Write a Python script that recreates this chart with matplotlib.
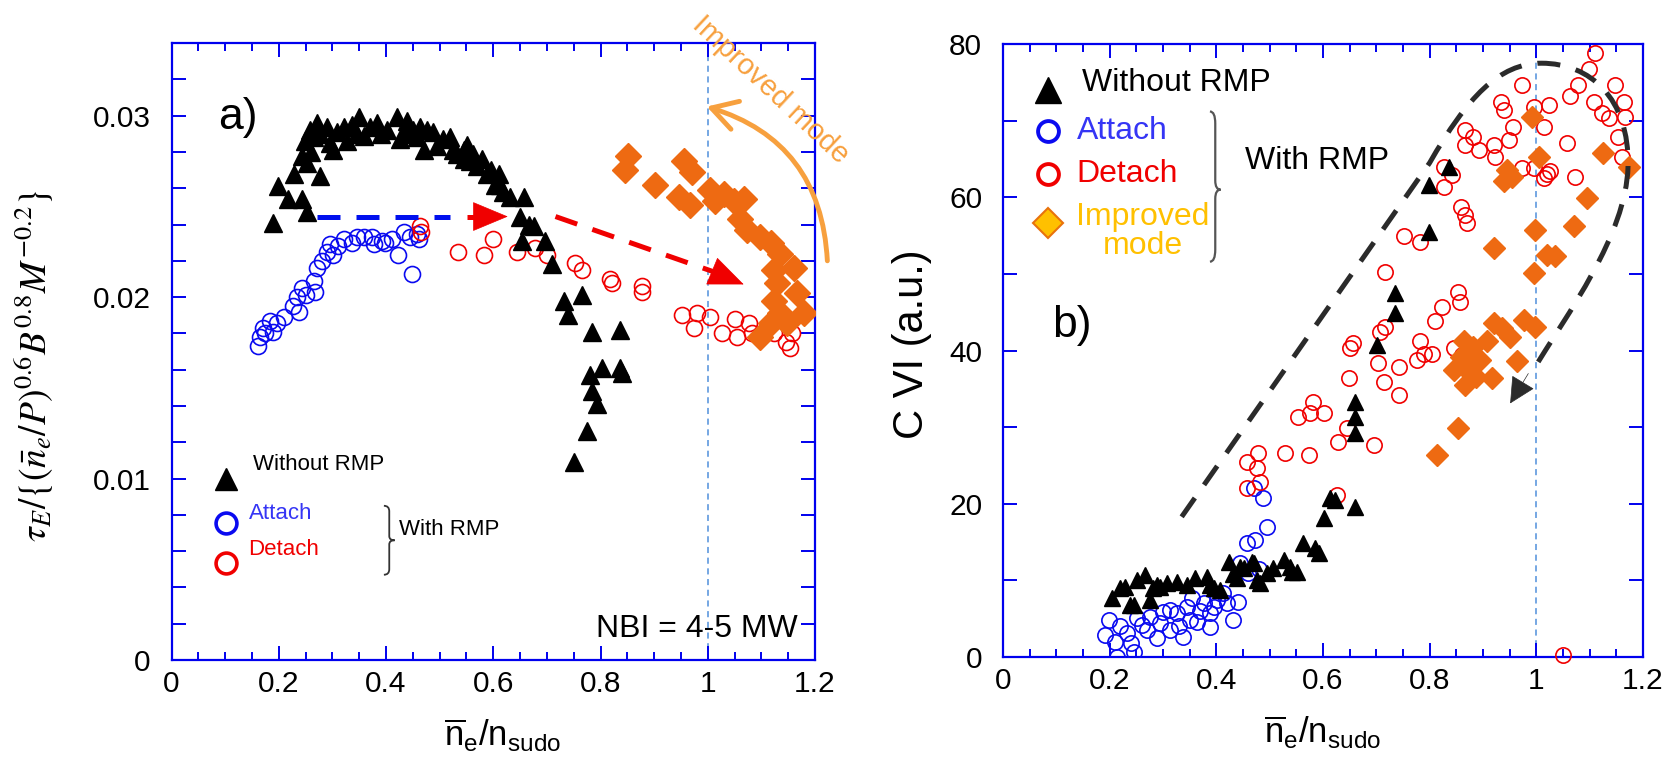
import matplotlib
matplotlib.use("Agg")
import matplotlib.pyplot as plt
from matplotlib.path import Path
from matplotlib.patches import PathPatch
from matplotlib.ticker import MultipleLocator, FixedLocator, FixedFormatter

plt.rcParams['font.family'] = ['Liberation Sans', 'DejaVu Sans']
plt.rcParams['mathtext.fontset'] = 'custom'
plt.rcParams['mathtext.rm'] = 'Liberation Sans'
plt.rcParams['mathtext.it'] = 'Liberation Sans:italic'

# ---------------- panel a) data ----------------
a_wo_x = [0.190, 0.199, 0.218, 0.229, 0.243, 0.253, 0.243, 0.252, 0.277, 0.249, 0.258, 0.271,
          0.290, 0.302, 0.308, 0.321, 0.336, 0.349, 0.327, 0.358, 0.370, 0.383, 0.402, 0.420,
          0.426, 0.439, 0.451, 0.464, 0.470, 0.476, 0.488, 0.495, 0.507, 0.520, 0.532, 0.545,
          0.551, 0.563, 0.570, 0.579, 0.588, 0.604, 0.610, 0.619, 0.632, 0.657, 0.650, 0.666,
          0.675, 0.653, 0.697, 0.709, 0.731, 0.765, 0.740, 0.784, 0.837, 0.781, 0.803, 0.837,
          0.840, 0.784, 0.793, 0.775, 0.750, 0.277, 0.296, 0.345, 0.390, 0.433, 0.458, 0.525,
          0.545, 0.557, 0.595, 0.612, 0.260, 0.265]
a_wo_y = [0.0241, 0.0261, 0.0254, 0.0268, 0.0254, 0.0247, 0.0278, 0.0274, 0.0267, 0.0286, 0.0292, 0.0296,
          0.0294, 0.0281, 0.0291, 0.0294, 0.0295, 0.0299, 0.0286, 0.0289, 0.0294, 0.0296, 0.0292, 0.0299,
          0.0287, 0.0297, 0.0292, 0.0294, 0.0281, 0.0292, 0.0291, 0.0283, 0.0287, 0.0288, 0.0279, 0.0276,
          0.0284, 0.0279, 0.0272, 0.0276, 0.0268, 0.0262, 0.0268, 0.0258, 0.0255, 0.0255, 0.0244, 0.0240,
          0.0239, 0.0231, 0.0231, 0.0218, 0.0198, 0.0201, 0.0190, 0.0181, 0.0182, 0.0157, 0.0161, 0.0161,
          0.0158, 0.0148, 0.0141, 0.0126, 0.0109, 0.0290, 0.0285, 0.0290, 0.0290, 0.0290, 0.0288, 0.0281,
          0.0281, 0.0275, 0.0270, 0.0262, 0.0280, 0.0288]

a_att_x = [0.162, 0.165, 0.171, 0.184, 0.190, 0.209, 0.227, 0.237, 0.234, 0.243, 0.265, 0.268,
           0.271, 0.280, 0.302, 0.296, 0.321, 0.336, 0.346, 0.358, 0.373, 0.377, 0.392, 0.411,
           0.423, 0.433, 0.458, 0.461, 0.448, 0.175, 0.196, 0.250, 0.290, 0.310, 0.398, 0.445]
a_att_y = [0.0173, 0.0178, 0.0183, 0.0187, 0.0181, 0.0189, 0.0195, 0.0192, 0.0200, 0.0205, 0.0209, 0.0203,
           0.0216, 0.0220, 0.0223, 0.0229, 0.0232, 0.0230, 0.0233, 0.0233, 0.0233, 0.0229, 0.0231, 0.0232,
           0.0223, 0.0236, 0.0235, 0.0232, 0.0213, 0.0180, 0.0186, 0.0201, 0.0225, 0.0228, 0.0230, 0.0233]

a_det_x = [0.464, 0.466, 0.535, 0.582, 0.600, 0.644, 0.678, 0.700, 0.753, 0.765, 0.818, 0.821,
           0.877, 0.877, 0.952, 0.974, 0.980, 1.005, 1.026, 1.051, 1.054, 1.076, 1.082, 1.123,
           1.145, 1.154, 1.157]
a_det_y = [0.0239, 0.0236, 0.0225, 0.0223, 0.0232, 0.0225, 0.0227, 0.0223, 0.0219, 0.0215, 0.0210, 0.0208,
           0.0206, 0.0203, 0.0190, 0.0183, 0.0191, 0.0189, 0.0180, 0.0188, 0.0178, 0.0186, 0.0180, 0.0180,
           0.0175, 0.0172, 0.0180]

a_imp_x = [0.852, 0.846, 0.902, 0.955, 0.970, 0.946, 0.967, 1.005, 1.014, 1.030, 1.048, 1.067,
           1.061, 1.073, 1.098, 1.117, 1.135, 1.123, 1.160, 1.129, 1.123, 1.166, 1.179, 1.135,
           1.148, 1.117, 1.098]
a_imp_y = [0.0278, 0.0270, 0.0262, 0.0275, 0.0269, 0.0255, 0.0251, 0.0259, 0.0253, 0.0257, 0.0253, 0.0254,
           0.0243, 0.0237, 0.0233, 0.0230, 0.0224, 0.0215, 0.0216, 0.0208, 0.0198, 0.0202, 0.0191, 0.0191,
           0.0186, 0.0186, 0.0178]

# ---------------- panel b) data ----------------
b_wo_x = [0.204, 0.229, 0.245, 0.251, 0.266, 0.276, 0.288, 0.307, 0.326, 0.345, 0.360, 0.382,
          0.388, 0.407, 0.423, 0.438, 0.451, 0.470, 0.476, 0.495, 0.507, 0.526, 0.538, 0.551,
          0.563, 0.585, 0.592, 0.601, 0.614, 0.623, 0.660, 0.660, 0.660, 0.660, 0.701, 0.735,
          0.735, 0.798, 0.836, 0.798, 0.220, 0.238, 0.282, 0.295, 0.395, 0.432, 0.445, 0.467,
          0.482, 0.542]
b_wo_y = [7.66, 9.18, 6.79, 10.05, 10.70, 7.44, 9.40, 9.62, 9.83, 9.40, 10.27, 10.49,
          9.40, 8.75, 12.45, 10.27, 11.58, 12.23, 10.05, 10.92, 11.58, 12.66, 11.79, 11.14,
          14.84, 14.19, 13.53, 18.10, 20.71, 20.50, 19.63, 29.20, 31.37, 33.33, 40.73, 44.87,
          47.48, 61.6, 64.0, 55.5, 8.96, 6.8, 8.96, 9.18, 8.96, 10.9, 11.8, 12.45,
          9.62, 11.14]

b_att_x = [0.198, 0.191, 0.213, 0.245, 0.232, 0.251, 0.270, 0.276, 0.288, 0.295, 0.313, 0.326,
           0.338, 0.345, 0.351, 0.363, 0.376, 0.388, 0.388, 0.401, 0.413, 0.432, 0.441, 0.445,
           0.460, 0.457, 0.473, 0.495, 0.470, 0.488, 0.313, 0.354, 0.300, 0.260, 0.220, 0.210,
           0.240, 0.330, 0.370, 0.395, 0.420, 0.480]
b_att_y = [4.83, 2.87, 0.04, 0.70, 3.09, 5.05, 3.52, 5.27, 2.44, 4.40, 3.52, 5.70,
           2.65, 6.57, 4.83, 4.61, 7.01, 5.70, 3.96, 7.44, 8.31, 4.83, 7.22, 12.23,
           10.92, 14.84, 15.27, 17.01, 22.02, 20.71, 6.14, 7.66, 5.9, 4.2, 4.0, 2.0,
           1.8, 4.0, 6.0, 6.5, 7.0, 11.5]

b_det_x = [0.457, 0.482, 0.457, 0.476, 0.479, 0.529, 0.573, 0.554, 0.576, 0.582, 0.601, 0.629,
           0.645, 0.626, 0.695, 0.648, 0.651, 0.657, 0.704, 0.714, 0.742, 0.742, 0.707, 0.717,
           0.717, 1.111, 1.098, 1.079, 1.064, 1.148, 1.164, 1.108, 1.123, 1.136, 1.167, 1.154,
           1.161, 1.058, 1.073, 0.973, 0.995, 1.023, 1.014, 0.933, 0.939, 0.957, 0.948, 0.920,
           0.867, 0.882, 0.867, 0.892, 0.923, 0.973, 0.995, 1.020, 1.014, 1.026, 0.826, 0.842,
           0.826, 0.858, 0.870, 0.867, 0.751, 0.782, 0.854, 0.857, 0.823, 0.810, 0.782, 0.789,
           0.804, 0.776, 0.845, 0.861, 0.864, 1.050]
b_det_y = [22.02, 22.89, 25.50, 24.63, 26.59, 26.59, 26.37, 31.37, 31.81, 33.33, 31.81, 28.11,
           29.85, 21.15, 27.68, 36.38, 40.30, 40.95, 38.34, 35.94, 37.90, 34.20, 42.47, 43.12,
           50.30, 78.8, 76.8, 74.7, 73.2, 74.7, 72.5, 72.5, 71.0, 70.3, 70.5, 67.9,
           65.3, 67.1, 62.7, 74.7, 71.8, 72.1, 69.2, 72.5, 71.4, 69.2, 67.5, 66.8,
           68.8, 67.9, 66.8, 66.2, 65.3, 63.8, 63.8, 63.1, 62.5, 63.4, 64.0, 62.9,
           61.4, 58.8, 56.6, 57.7, 54.9, 54.2, 47.7, 46.4, 45.7, 43.8, 41.2, 39.6,
           39.6, 38.8, 40.3, 39.4, 38.8, 0.3]

b_imp_x = [0.992, 1.005, 0.945, 0.939, 0.954, 1.126, 1.173, 1.095, 0.998, 1.070, 0.920, 1.020,
           1.036, 0.995, 0.920, 0.936, 0.976, 0.997, 0.951, 0.864, 0.882, 0.907, 0.858, 0.895,
           0.845, 0.870, 0.886, 0.917, 0.964, 0.867, 0.854, 0.814]
b_imp_y = [70.5, 65.3, 63.6, 62.1, 62.7, 65.8, 64.0, 59.9, 55.7, 56.2, 53.4, 52.5,
           52.3, 50.1, 43.6, 42.9, 44.0, 43.1, 41.8, 41.2, 40.5, 41.2, 39.2, 38.8,
           37.5, 37.5, 36.6, 36.4, 38.6, 35.5, 29.9, 26.4]

# guide curve of panel b) (annotation, not data)
b_loop = [(0.335, 18.3), (0.80, 64.5), (0.87, 73.0), (0.93, 77.5), (1.01, 77.5),
          (1.10, 77.5), (1.175, 73.0), (1.172, 64.0), (1.168, 55.0), (1.06, 45.0), (0.99, 37.0)]

x_ticks = [0, 0.2, 0.4, 0.6, 0.8, 1, 1.2]
x_tick_labels = ['0', '0.2', '0.4', '0.6', '0.8', '1', '1.2']
a_y_ticks = [0, 0.01, 0.02, 0.03]
a_y_tick_labels = ['0', '0.01', '0.02', '0.03']
b_y_ticks = [0, 20, 40, 60, 80]
b_y_tick_labels = ['0', '20', '40', '60', '80']

SPINE = '#0000EE'
BLUE = '#0A0AF0'
RED = '#F00000'
ORANGE = '#EE6A12'
LIGHT_ORANGE = '#F7A03E'
GOLD = '#FFC000'
XLABEL = r'$\overline{\mathrm{n}}_{\mathrm{e}}/\mathrm{n}_{\mathrm{sudo}}$'


def style_axes(ax, yticks, ylabels, yminor, xlab_x):
    for s in ax.spines.values():
        s.set_color(SPINE)
        s.set_linewidth(1.6)
    ax.set_xlim(0, 1.2)
    ax.xaxis.set_major_locator(FixedLocator(x_ticks))
    ax.xaxis.set_major_formatter(FixedFormatter(x_tick_labels))
    ax.xaxis.set_minor_locator(MultipleLocator(0.05))
    ax.yaxis.set_major_locator(FixedLocator(yticks))
    ax.yaxis.set_major_formatter(FixedFormatter(ylabels))
    ax.yaxis.set_minor_locator(MultipleLocator(yminor))
    ax.tick_params(which='both', direction='in', top=True, right=True,
                   color=SPINE, width=1.4, labelsize=21.5, labelcolor='black')
    ax.tick_params(axis='x', which='major', length=10, pad=7)
    ax.tick_params(axis='x', which='minor', length=6)
    ax.tick_params(axis='y', which='both', length=10, pad=15)
    ax.set_xlabel(XLABEL, fontsize=25)
    ax.xaxis.set_label_coords(xlab_x, -0.092)
    ax.axvline(1.0, color='#4F8FDB', lw=1.1, dashes=(4, 3), zorder=1.5)


def brace(ax, x0, x1, y0, y1, ym, **kw):
    xm = (x0 + x1) / 2
    h = y1 - y0
    verts = [(x0, y1), (xm, y1), (xm, y1 - 0.08 * h), (xm, ym + 0.06 * h),
             (xm, ym), (x1, ym), (xm, ym), (xm, ym - 0.06 * h),
             (xm, y0 + 0.08 * h), (xm, y0), (x0, y0)]
    codes = [Path.MOVETO, Path.CURVE3, Path.CURVE3, Path.LINETO, Path.CURVE3, Path.CURVE3,
             Path.CURVE3, Path.CURVE3, Path.LINETO, Path.CURVE3, Path.CURVE3]
    ax.add_patch(PathPatch(Path(verts, codes), fill=False, **kw))


def head(ax, tip, base, color, scale=20):
    ax.annotate('', xy=tip, xytext=base,
                arrowprops=dict(arrowstyle='-|>,head_length=1.2,head_width=0.5', color=color,
                                lw=0.5, mutation_scale=scale, shrinkA=0, shrinkB=0), zorder=6)


fig = plt.figure(figsize=(16.77, 7.69), dpi=100)
ax1 = fig.add_axes([0.1023, 0.1417, 0.3837, 0.8023])
ax2 = fig.add_axes([0.5981, 0.1456, 0.3816, 0.7971])

# ---------------- panel a) ----------------
ax1.set_ylim(0, 0.034)
style_axes(ax1, a_y_ticks, a_y_tick_labels, 0.002, 0.515)
ax1.plot(a_att_x, a_att_y, 'o', ms=11.5, mfc='none', mec=BLUE, mew=1.2, zorder=3)
ax1.plot(a_det_x, a_det_y, 'o', ms=11.5, mfc='none', mec=RED, mew=1.2, zorder=3)
ax1.plot(a_wo_x, a_wo_y, '^', ms=13, color='black', mec='black', zorder=4)
ax1.plot(a_imp_x, a_imp_y, 'D', ms=13, color=ORANGE, mec=ORANGE, zorder=5)

# horizontal and sloped arrows
ax1.plot([0.271, 0.520], [0.02444, 0.02444], color='#0010EE', lw=3.6, dashes=(4.6, 3.2), zorder=4)
ax1.plot([0.551, 0.590], [0.02444, 0.02444], color=RED, lw=3.6, dashes=(4.6, 3.2), zorder=4)
head(ax1, (0.627, 0.02444), (0.585, 0.02444), RED)
ax1.plot([0.716, 1.025], [0.02444, 0.02125], color=RED, lw=3.6, dashes=(4.6, 3.2), zorder=4)
head(ax1, (1.067, 0.0207), (1.020, 0.02128), RED)

# improved mode curved arrow
ax1.annotate('', xy=(0.998, 0.0305), xytext=(1.223, 0.0220), annotation_clip=False,
             arrowprops=dict(arrowstyle='->,head_length=0.6,head_width=0.35', color=LIGHT_ORANGE,
                             lw=3.5, mutation_scale=30, connectionstyle='arc3,rad=0.35',
                             clip_on=False, shrinkA=0, shrinkB=0))
ax1.text(1.117, 0.0314, 'Improved mode', color=LIGHT_ORANGE, fontsize=21, rotation=-43,
         ha='center', va='center', clip_on=False)

ax1.text(0.087, 0.0299, 'a)', fontsize=32, ha='left', va='center')

# legend a)
ax1.plot([0.101], [0.0100], '^', ms=16, color='black', clip_on=False)
ax1.text(0.151, 0.0108, 'Without RMP', fontsize=16, va='center')
ax1.plot([0.101], [0.00755], 'o', ms=15, mfc='none', mec=BLUE, mew=2.6)
ax1.text(0.1435, 0.0081, 'Attach', fontsize=16, color='#3535F5', va='center')
ax1.plot([0.101], [0.00534], 'o', ms=15, mfc='none', mec=RED, mew=2.6)
ax1.text(0.1435, 0.00608, 'Detach', fontsize=16, color=RED, va='center')
brace(ax1, 0.396, 0.416, 0.0047, 0.0085, 0.0066, color='#333333', lw=1.3)
ax1.text(0.424, 0.00718, 'With RMP', fontsize=16, va='center')
ax1.text(1.168, 0.0017, 'NBI = 4-5 MW', fontsize=23, ha='right', va='center')

ax1.set_ylabel(r'$\tau_E/\{(\bar{n}_e/P)^{0.6}B^{0.8}M^{-0.2}\}$', fontsize=27,
               math_fontfamily='stix')
ax1.yaxis.set_label_coords(-0.18, 0.478)

# ---------------- panel b) ----------------
ax2.set_ylim(0, 80)
style_axes(ax2, b_y_ticks, b_y_tick_labels, 10, 0.5)
ax2.plot(b_att_x, b_att_y, 'o', ms=11, mfc='none', mec=BLUE, mew=1.2, zorder=3)
ax2.plot(b_det_x, b_det_y, 'o', ms=11, mfc='none', mec=RED, mew=1.2, zorder=3, clip_on=False)
ax2.plot(b_wo_x, b_wo_y, '^', ms=11, color='black', zorder=4)
ax2.plot(b_imp_x, b_imp_y, 'D', ms=11, color=ORANGE, mec=ORANGE, zorder=5)

loop_codes = [Path.MOVETO, Path.LINETO] + [Path.CURVE4] * 9
ax2.add_patch(PathPatch(Path(b_loop, loop_codes), fill=False, color='#2B2B2B', lw=3.6,
                        linestyle=(0, (4.6, 3.2)), capstyle='butt', zorder=6))
ax2.annotate('', xy=(0.951, 33.1), xytext=(0.985, 37.0),
             arrowprops=dict(arrowstyle='-|>,head_length=1.0,head_width=0.5', color='#2B2B2B',
                             lw=0.5, mutation_scale=17, shrinkA=0, shrinkB=0), zorder=6)

ax2.text(0.13, 43.3, 'b)', fontsize=32, ha='center', va='center')

# legend b)
ax2.plot([0.085], [74.0], '^', ms=19, color='black')
ax2.text(0.148, 74.9, 'Without RMP', fontsize=23, va='center')
ax2.plot([0.085], [68.6], 'o', ms=15, mfc='none', mec=BLUE, mew=2.8)
ax2.text(0.138, 68.6, 'Attach', fontsize=23, color='#3535F5', va='center')
ax2.plot([0.085], [63.1], 'o', ms=15, mfc='none', mec=RED, mew=2.8)
ax2.text(0.138, 63.1, 'Detach', fontsize=23, color=RED, va='center')
ax2.plot([0.085], [56.7], 'D', ms=15, color=GOLD, mec='#E8720C', mew=1.5)
ax2.text(0.262, 55.5, 'Improved\nmode', fontsize=23, color=GOLD, ha='center', va='center',
         linespacing=0.95)
brace(ax2, 0.388, 0.408, 51.6, 71.2, 61.0, color='#555555', lw=1.6)
ax2.text(0.454, 64.7, 'With RMP', fontsize=23, va='center')

ax2.set_ylabel('C VI (a.u.)', fontsize=30)
ax2.yaxis.set_label_coords(-0.111, 0.51)

fig.savefig('out.png', dpi=100)
